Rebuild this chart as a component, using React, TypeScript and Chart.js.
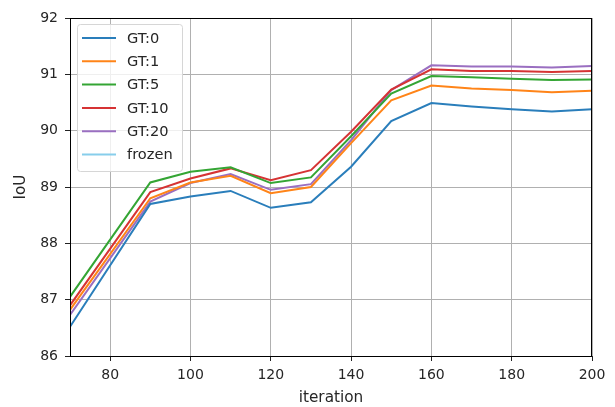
import { useEffect, useRef } from 'react';
import { Chart, registerables } from 'chart.js';

Chart.register(...registerables);

const iterations = [70, 90, 100, 110, 120, 130, 140, 150, 160, 170, 180, 190, 200];
const gt0 = [86.52, 88.7, 88.83, 88.93, 88.63, 88.73, 89.36, 90.17, 90.49, 90.43, 90.38, 90.34, 90.38];
const gt1 = [86.82, 88.8, 89.08, 89.2, 88.89, 89.0, 89.78, 90.54, 90.8, 90.75, 90.72, 90.68, 90.71];
const gt5 = [87.05, 89.08, 89.27, 89.35, 89.07, 89.17, 89.9, 90.66, 90.97, 90.95, 90.92, 90.9, 90.91];
const gt10 = [86.9, 88.91, 89.15, 89.33, 89.12, 89.3, 89.98, 90.73, 91.09, 91.06, 91.06, 91.04, 91.06];
const gt20 = [86.73, 88.74, 89.07, 89.23, 88.95, 89.05, 89.83, 90.72, 91.16, 91.14, 91.14, 91.12, 91.15];
const frozen: number[] = [];

const seriesLabels = ['GT:0', 'GT:1', 'GT:5', 'GT:10', 'GT:20', 'frozen'];
const seriesValues = [gt0, gt1, gt5, gt10, gt20, frozen];
const seriesColors = ['#2a7ebb', '#ff8418', '#34a534', '#d63334', '#9a6fc1', '#87ceeb'];

const xTicks = [80, 100, 120, 140, 160, 180, 200];
const yTicks = [86, 87, 88, 89, 90, 91, 92];

const FAMILY = '"DejaVu Sans", sans-serif';
const TICK_FONT = { family: FAMILY, size: 14 };
const TITLE_FONT = { family: FAMILY, size: 15.3 };
const LEGEND_SIZE = 14.6;
const TEXT = '#262626';

const framePlugin = {
  id: 'mplFrame',
  afterDatasetsDraw(chart: any) {
    const { ctx, chartArea } = chart;
    ctx.save();
    ctx.strokeStyle = '#000';
    ctx.lineWidth = 1;
    ctx.strokeRect(
      Math.round(chartArea.left) + 0.5,
      Math.round(chartArea.top) + 0.5,
      Math.round(chartArea.right - chartArea.left) - 1,
      Math.round(chartArea.bottom - chartArea.top)
    );
    ctx.restore();
  },
};

const legendPlugin = {
  id: 'mplLegend',
  afterDraw(chart: any) {
    const { ctx, chartArea } = chart;
    const x0 = chartArea.left + 7.5;
    const y0 = chartArea.top + 6.5;
    const w = 105;
    const h = 147;
    const r = 3;
    ctx.save();
    ctx.beginPath();
    ctx.moveTo(x0 + r, y0);
    ctx.lineTo(x0 + w - r, y0);
    ctx.arcTo(x0 + w, y0, x0 + w, y0 + r, r);
    ctx.lineTo(x0 + w, y0 + h - r);
    ctx.arcTo(x0 + w, y0 + h, x0 + w - r, y0 + h, r);
    ctx.lineTo(x0 + r, y0 + h);
    ctx.arcTo(x0, y0 + h, x0, y0 + h - r, r);
    ctx.lineTo(x0, y0 + r);
    ctx.arcTo(x0, y0, x0 + r, y0, r);
    ctx.closePath();
    ctx.fillStyle = 'rgba(255,255,255,0.8)';
    ctx.fill();
    ctx.strokeStyle = '#d6d6d6';
    ctx.lineWidth = 1;
    ctx.stroke();

    ctx.font = `${LEGEND_SIZE}px ${FAMILY}`;
    ctx.textBaseline = 'middle';
    ctx.textAlign = 'left';
    chart.data.datasets.forEach((ds: any, i: number) => {
      const y = chartArea.top + 20 + i * 23.3;
      ctx.beginPath();
      ctx.strokeStyle = ds.borderColor;
      ctx.lineWidth = 2;
      ctx.moveTo(chartArea.left + 12, y);
      ctx.lineTo(chartArea.left + 46, y);
      ctx.stroke();
      ctx.fillStyle = TEXT;
      ctx.fillText(ds.label, chartArea.left + 57, y + 1);
    });
    ctx.restore();
  },
};

export default function App() {
  const ref = useRef<HTMLCanvasElement | null>(null);

  useEffect(() => {
    if (!ref.current) return;
    const chart = new Chart(ref.current, {
      type: 'line',
      data: {
        datasets: seriesLabels.map((label, i) => ({
          label,
          data: seriesValues[i].map((v, j) => ({ x: iterations[j], y: v })),
          borderColor: seriesColors[i],
          backgroundColor: seriesColors[i],
          borderWidth: 2,
          pointRadius: 0,
          tension: 0,
          fill: false,
        })),
      },
      options: {
        animation: false,
        responsive: true,
        maintainAspectRatio: false,
        layout: { padding: { top: 18, right: 23, left: 0, bottom: 0 } },
        plugins: {
          legend: { display: false },
          tooltip: { enabled: false },
        },
        scales: {
          x: {
            type: 'linear',
            min: 70,
            max: 200,
            afterBuildTicks: (s: any) => {
              s.ticks = xTicks.map((v) => ({ value: v }));
            },
            afterFit: (s: any) => {
              s.height = 51;
            },
            grid: { color: '#b0b0b0', lineWidth: 1, tickColor: '#222', tickLength: 5, tickWidth: 1 },
            border: { display: false },
            ticks: { color: TEXT, font: TICK_FONT, padding: 6, maxRotation: 0, autoSkip: false },
            title: { display: true, text: 'iteration', color: TEXT, font: TITLE_FONT, padding: { top: 0, bottom: 0 } },
          },
          y: {
            type: 'linear',
            min: 86,
            max: 92,
            afterBuildTicks: (s: any) => {
              s.ticks = yTicks.map((v) => ({ value: v }));
            },
            afterFit: (s: any) => {
              s.width = 70;
            },
            grid: { color: '#b0b0b0', lineWidth: 1, tickColor: '#222', tickLength: 5, tickWidth: 1 },
            border: { display: false },
            ticks: { color: TEXT, font: TICK_FONT, padding: 7, autoSkip: false },
            title: { display: true, text: 'IoU', color: TEXT, font: TITLE_FONT, padding: { top: 12, bottom: 0 } },
          },
        },
      },
      plugins: [framePlugin, legendPlugin],
    });
    return () => chart.destroy();
  }, []);

  return (
    <div style={{ position: 'absolute', left: 0, top: 0, width: 615, height: 407, background: '#fff' }}>
      <canvas ref={ref} />
    </div>
  );
}
